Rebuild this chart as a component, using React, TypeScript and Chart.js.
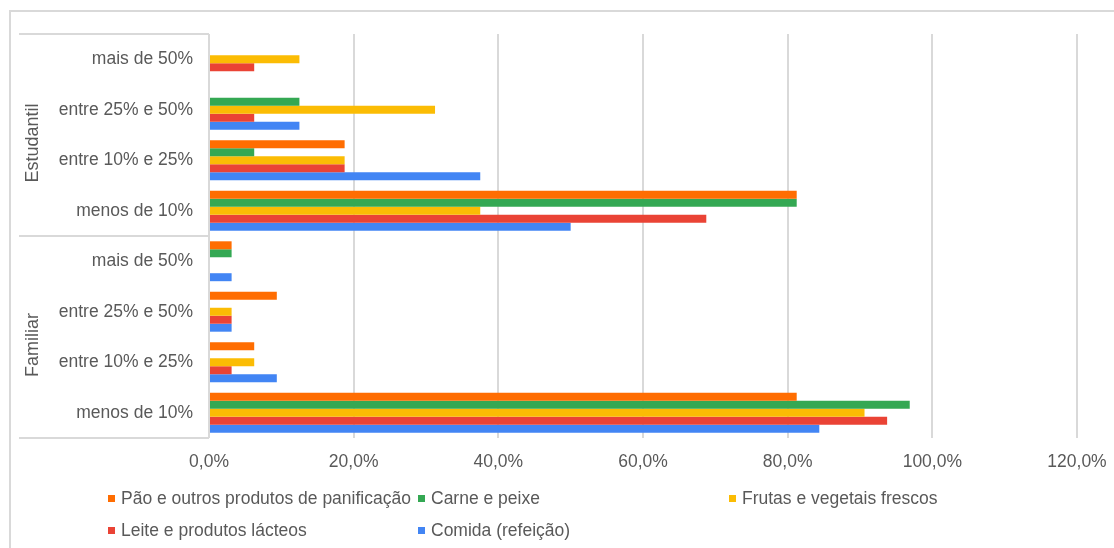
import React, { useEffect, useRef } from "react";
import { Chart, registerables } from "chart.js";
Chart.register(...registerables);

const categories = [
  "mais de 50%",
  "entre 25% e 50%",
  "entre 10% e 25%",
  "menos de 10%",
  "mais de 50%",
  "entre 25% e 50%",
  "entre 10% e 25%",
  "menos de 10%",
];
const groups = ["Estudantil", "Familiar"];
const seriesNames = [
  "Pão e outros produtos de panificação",
  "Carne e peixe",
  "Frutas e vegetais frescos",
  "Leite e produtos lácteos",
  "Comida (refeição)",
];
const seriesColors = ["#FF6D01", "#34A853", "#FBBC04", "#EA4335", "#4285F4"];
const paoValues = [0, 0, 18.75, 81.25, 3.125, 9.375, 6.25, 81.25];
const carneValues = [0, 12.5, 6.25, 81.25, 3.125, 0, 0, 96.875];
const frutasValues = [12.5, 31.25, 18.75, 37.5, 0, 3.125, 6.25, 90.625];
const leiteValues = [6.25, 6.25, 18.75, 68.75, 0, 3.125, 3.125, 93.75];
const comidaValues = [0, 12.5, 37.5, 50, 3.125, 3.125, 9.375, 84.375];
const xMin = 0;
const xMax = 120;
const xStep = 20;

const FONT = "'Liberation Sans', Arial, sans-serif";
const TEXT = "#595959";
const GRID = "#d9d9d9";

const boxPlugin = {
  id: "boxPlugin",
  beforeDraw(chart: any) {
    const { ctx } = chart;
    ctx.save();
    ctx.strokeStyle = GRID;
    ctx.lineWidth = 2;
    ctx.strokeRect(10, 11, 1300, 800);
    ctx.restore();
  },
  afterDraw(chart: any) {
    const { ctx, chartArea } = chart;
    const y = chart.scales.y;
    const top = chartArea.top;
    const bottom = chartArea.bottom;
    const mid = (y.getPixelForValue(3) + y.getPixelForValue(4)) / 2;
    ctx.save();
    ctx.strokeStyle = GRID;
    ctx.lineWidth = 2;
    ctx.beginPath();
    [top, mid, bottom].forEach((yy) => {
      ctx.moveTo(19, yy);
      ctx.lineTo(chartArea.left, yy);
    });
    ctx.stroke();
    ctx.fillStyle = TEXT;
    ctx.font = `18px ${FONT}`;
    ctx.textAlign = "center";
    ctx.textBaseline = "alphabetic";
    const centers = [(top + mid) / 2 + 8, (mid + bottom) / 2 + 8];
    groups.forEach((g, i) => {
      ctx.save();
      ctx.translate(37.5, centers[i]);
      ctx.rotate(-Math.PI / 2);
      ctx.fillText(g, 0, 0);
      ctx.restore();
    });
    ctx.restore();
  },
};

export default function App() {
  const ref = useRef<HTMLCanvasElement>(null);
  useEffect(() => {
    if (!ref.current) return;
    const all = [paoValues, carneValues, frutasValues, leiteValues, comidaValues];
    const chart = new Chart(ref.current, {
      type: "bar",
      data: {
        labels: categories,
        datasets: all.map((d, i) => ({
          label: seriesNames[i],
          data: d,
          backgroundColor: seriesColors[i],
          borderWidth: 0,
          barPercentage: 1,
          categoryPercentage: 0.79,
        })),
      },
      options: {
        indexAxis: "y",
        responsive: false,
        animation: false,
        layout: { padding: { top: 34, right: 37, left: 0, bottom: 0 } },
        plugins: { legend: { display: false }, tooltip: { enabled: false } },
        scales: {
          x: {
            min: xMin,
            max: xMax,
            ticks: {
              stepSize: xStep,
              callback: (v: any) => Number(v).toFixed(1).replace(".", ",") + "%",
              color: TEXT,
              font: { family: FONT, size: 17.5 },
              padding: 14,
              maxRotation: 0,
            },
            grid: { color: GRID, lineWidth: 2, drawTicks: false },
            border: { display: false },
            afterFit: (s: any) => {
              s.height = 110;
              s.paddingRight = 0;
              s.paddingLeft = 0;
            },
          },
          y: {
            ticks: {
              color: TEXT,
              font: { family: FONT, size: 17.5 },
              padding: 16,
              autoSkip: false,
            },
            grid: { display: false, drawTicks: false },
            border: { display: false },
            afterFit: (s: any) => {
              s.width = 209;
            },
          },
        },
      } as any,
      plugins: [boxPlugin],
    });
    return () => chart.destroy();
  }, []);

  const cols = [108, 418, 729];
  const rows = [498, 530];
  return (
    <div
      style={{
        position: "absolute",
        left: 0,
        top: 0,
        width: 1114,
        height: 548,
        overflow: "hidden",
        background: "#fff",
      }}
    >
      <canvas ref={ref} width={1114} height={548} style={{ display: "block" }} />
      {seriesNames.map((n, i) => {
        const x = cols[i % 3];
        const y = rows[Math.floor(i / 3)];
        return (
          <div
            key={n}
            style={{
              position: "absolute",
              left: x,
              top: y - 11,
              height: 22,
              display: "flex",
              alignItems: "center",
              fontFamily: FONT,
              fontSize: 17.5,
              color: TEXT,
              whiteSpace: "nowrap",
            }}
          >
            <span
              style={{
                display: "inline-block",
                width: 7,
                height: 7,
                background: seriesColors[i],
                marginRight: 6,
              }}
            />
            {n}
          </div>
        );
      })}
    </div>
  );
}
